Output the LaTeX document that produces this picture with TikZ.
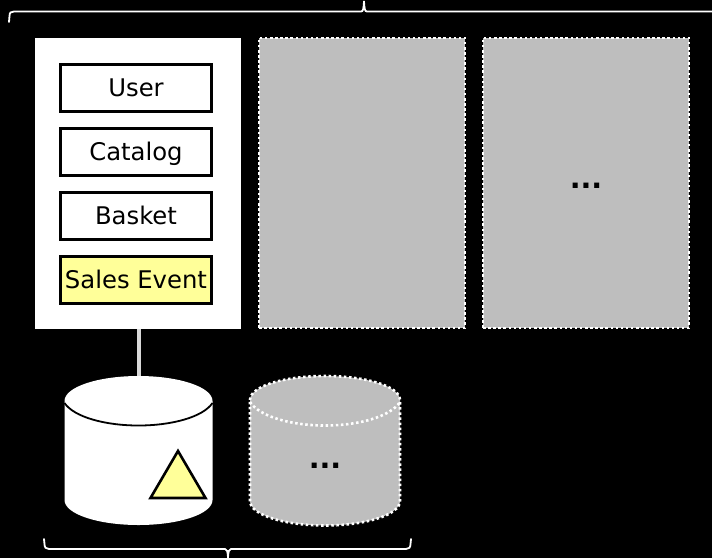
\documentclass[tikz,border=0pt]{standalone}
\usepackage{fontspec}
\setmainfont{DejaVu Sans}
\definecolor{pale}{RGB}{255,255,153}
\definecolor{midgray}{RGB}{190,190,190}
\tikzset{
  panel/.style={draw=none,fill=white,minimum width=206pt,minimum height=291pt,inner sep=0pt,outer sep=0pt},
  ghost/.style={draw=white,fill=midgray,line width=2.6pt,dash pattern=on 2.5pt off 2.6pt,minimum width=206pt,minimum height=290pt,inner sep=0pt},
  entity/.style={draw=black,fill=white,line width=3pt,minimum width=151.5pt,minimum height=47pt,inner sep=0pt,text height=17pt,text depth=0pt,font=\fontsize{24.3}{28}\selectfont},
  link/.style={draw=white,line width=4pt,draw opacity=0.85},
  bracket/.style={draw=white,line width=1.8pt,line cap=round},
  ghostcyl/.style={fill=midgray,draw=white,line width=2.6pt,dash pattern=on 2.5pt off 2.6pt},
  dots/.style={font=\bfseries\fontsize{28.5}{30}\selectfont,inner sep=0pt}
}
\begin{document}
\begin{tikzpicture}[x=1pt,y=-1pt]
\useasboundingbox[fill=black] (0,0) rectangle (712,558);
% top brace
\coordinate (tl) at (9,22);
\coordinate (tt) at (364,1);
\draw[bracket] (tl) -- (9.5,16) .. controls (9.5,12.5) and (11,11.5) .. (14,11.5)
  -- (361,11.5) .. controls (363,11.5) and (363.7,9) .. (tt)
  .. controls (364.3,9) and (365,11.5) .. (367,11.5) -- (714,11.5);
% panels
\node[panel] (p1) at (138,183.5) {};
\node[ghost] (p2) at (362,183) {};
\node[ghost] (p3) at (586,183) {};
\node[dots] (d1) at (586,186) {...};
% entities
\node[entity] (user) at (136,88) {User};
\node[entity] (catalog) at (136,152) {Catalog};
\node[entity] (basket) at (136,216) {Basket};
\node[entity,fill=pale] (sales) at (136,280) {Sales Event};
% db 1
\coordinate (c1top) at (138.5,376);
\fill[white] (64.5,401) .. controls (64.5,387) and (98,376) .. (c1top)
  .. controls (179,376) and (212.5,387) .. (212.5,401) -- (212.5,500)
  .. controls (212.5,514) and (179,525) .. (138.5,525)
  .. controls (98,525) and (64.5,514) .. (64.5,500) -- cycle;
\draw[black,line width=1.8pt] (64.5,403) .. controls (74,417) and (105,425.5) .. (138.5,425.5)
  .. controls (172,425.5) and (203,417) .. (212.5,403);
\draw[link] (p1.south -| c1top) -- (c1top);
\draw[black,fill=pale,line width=2.6pt,line join=miter] (178,451) -- (205.5,498) -- (150.5,498) -- cycle;
% db 2
\draw[ghostcyl] (250,400) .. controls (250,386) and (285,376) .. (325,376)
  .. controls (365,376) and (400,386) .. (400,400) -- (400,501)
  .. controls (400,515) and (365,525.5) .. (325,525.5)
  .. controls (285,525.5) and (250,515) .. (250,501) -- cycle;
\draw[draw=white,line width=2.6pt,dash pattern=on 2.5pt off 2.6pt] (250,402) .. controls (260,417) and (292,425.5) .. (325,425.5)
  .. controls (358,425.5) and (390,417) .. (400,402);
\node[dots] (d2) at (325,466) {...};
% bottom brace
\coordinate (bl) at (44,539);
\coordinate (bt) at (228,558);
\coordinate (br) at (411,539);
\draw[bracket] (bl) -- (44.5,544) .. controls (44.5,547.5) and (46,549) .. (49,549)
  -- (225,549) .. controls (227,549) and (227.7,551) .. (bt)
  .. controls (228.3,551) and (229,549) .. (231,549) -- (406,549)
  .. controls (409,549) and (410.5,547.5) .. (410.5,544) -- (br);
\end{tikzpicture}
\end{document}
